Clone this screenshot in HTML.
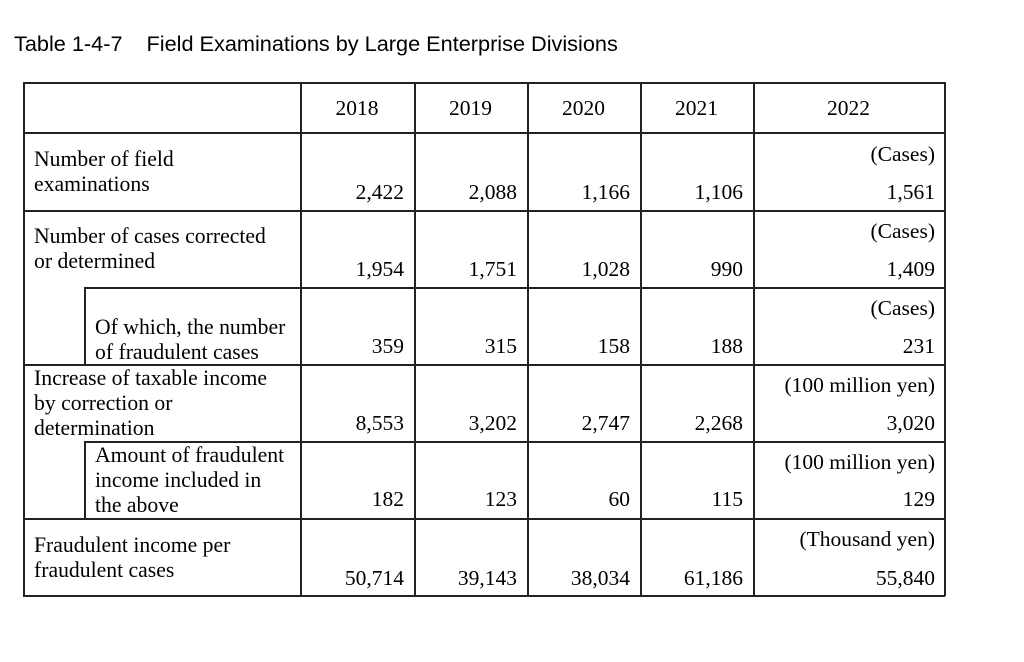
<!DOCTYPE html>
<html><head><style>
body{margin:0;background:#fff;width:1024px;height:662px;position:relative;overflow:hidden;font-family:"Liberation Serif",serif;color:#000}
.h{position:absolute;background:#222;height:1.5px}
.v{position:absolute;background:#222;width:1.5px}
.t{position:absolute;font-size:21.7px;line-height:25px;white-space:nowrap}
.r{position:absolute;font-size:21.5px;line-height:25px;text-align:right;white-space:nowrap}
.c{position:absolute;font-size:21.5px;line-height:25px;text-align:center;top:96px}
</style></head><body>
<div style="position:absolute;left:14px;top:31px;font-family:'Liberation Sans',sans-serif;font-size:21.7px;color:#000">Table 1-4-7<span style="display:inline-block;width:24px"></span>Field Examinations by Large Enterprise Divisions</div>
<div class="h" style="left:23px;width:922px;top:82px"></div>
<div class="h" style="left:23px;width:922px;top:132px"></div>
<div class="h" style="left:23px;width:922px;top:210px"></div>
<div class="h" style="left:84px;width:861px;top:287px"></div>
<div class="h" style="left:23px;width:922px;top:364px"></div>
<div class="h" style="left:84px;width:861px;top:441px"></div>
<div class="h" style="left:23px;width:922px;top:518px"></div>
<div class="h" style="left:23px;width:922px;top:595px"></div>
<div class="v" style="left:23px;top:82px;height:514px"></div>
<div class="v" style="left:84px;top:287px;height:77px"></div>
<div class="v" style="left:84px;top:441px;height:77px"></div>
<div class="v" style="left:300px;top:82px;height:514px"></div>
<div class="v" style="left:414px;top:82px;height:514px"></div>
<div class="v" style="left:527px;top:82px;height:514px"></div>
<div class="v" style="left:640px;top:82px;height:514px"></div>
<div class="v" style="left:753px;top:82px;height:514px"></div>
<div class="v" style="left:944px;top:82px;height:514px"></div>

<div class="c" style="left:300px;width:114px">2018</div>
<div class="c" style="left:414px;width:113px">2019</div>
<div class="c" style="left:527px;width:113px">2020</div>
<div class="c" style="left:640px;width:113px">2021</div>
<div class="c" style="left:753px;width:191px">2022</div>

<div class="t" style="left:34px;top:147px">Number of field<br>examinations</div>
<div class="t" style="left:34px;top:224px">Number of cases corrected<br>or determined</div>
<div class="t" style="left:95px;top:315px">Of which, the number<br>of fraudulent cases</div>
<div class="t" style="left:34px;top:366px">Increase of taxable income<br>by correction or<br>determination</div>
<div class="t" style="left:95px;top:443px">Amount of fraudulent<br>income included in<br>the above</div>
<div class="t" style="left:34px;top:533px">Fraudulent income per<br>fraudulent cases</div>

<div class="r" style="left:600px;width:335px;top:142px">(Cases)</div>
<div class="r" style="left:600px;width:335px;top:219px">(Cases)</div>
<div class="r" style="left:600px;width:335px;top:296px">(Cases)</div>
<div class="r" style="left:600px;width:335px;top:373px">(100 million yen)</div>
<div class="r" style="left:600px;width:335px;top:450px">(100 million yen)</div>
<div class="r" style="left:600px;width:335px;top:527px">(Thousand yen)</div>

<div class="r" style="left:300px;width:104px;top:180px">2,422</div>
<div class="r" style="left:414px;width:103px;top:180px">2,088</div>
<div class="r" style="left:527px;width:103px;top:180px">1,166</div>
<div class="r" style="left:640px;width:103px;top:180px">1,106</div>
<div class="r" style="left:753px;width:182px;top:180px">1,561</div>

<div class="r" style="left:300px;width:104px;top:257px">1,954</div>
<div class="r" style="left:414px;width:103px;top:257px">1,751</div>
<div class="r" style="left:527px;width:103px;top:257px">1,028</div>
<div class="r" style="left:640px;width:103px;top:257px">990</div>
<div class="r" style="left:753px;width:182px;top:257px">1,409</div>

<div class="r" style="left:300px;width:104px;top:334px">359</div>
<div class="r" style="left:414px;width:103px;top:334px">315</div>
<div class="r" style="left:527px;width:103px;top:334px">158</div>
<div class="r" style="left:640px;width:103px;top:334px">188</div>
<div class="r" style="left:753px;width:182px;top:334px">231</div>

<div class="r" style="left:300px;width:104px;top:411px">8,553</div>
<div class="r" style="left:414px;width:103px;top:411px">3,202</div>
<div class="r" style="left:527px;width:103px;top:411px">2,747</div>
<div class="r" style="left:640px;width:103px;top:411px">2,268</div>
<div class="r" style="left:753px;width:182px;top:411px">3,020</div>

<div class="r" style="left:300px;width:104px;top:487px">182</div>
<div class="r" style="left:414px;width:103px;top:487px">123</div>
<div class="r" style="left:527px;width:103px;top:487px">60</div>
<div class="r" style="left:640px;width:103px;top:487px">115</div>
<div class="r" style="left:753px;width:182px;top:487px">129</div>

<div class="r" style="left:300px;width:104px;top:566px">50,714</div>
<div class="r" style="left:414px;width:103px;top:566px">39,143</div>
<div class="r" style="left:527px;width:103px;top:566px">38,034</div>
<div class="r" style="left:640px;width:103px;top:566px">61,186</div>
<div class="r" style="left:753px;width:182px;top:566px">55,840</div>
</body></html>
